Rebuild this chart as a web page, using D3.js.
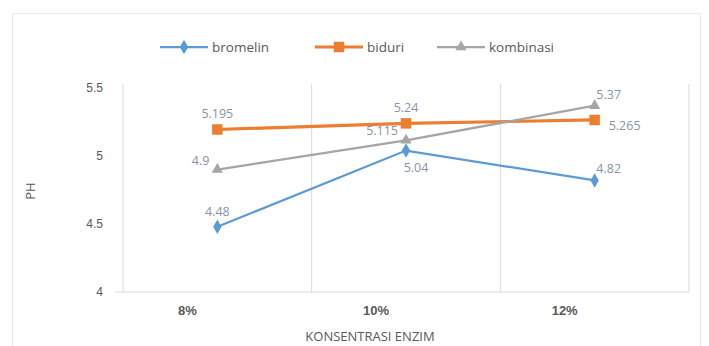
<!DOCTYPE html>
<html><head><meta charset="utf-8">
<script src="https://cdn.jsdelivr.net/npm/d3@7/dist/d3.min.js"></script>
<style>body{margin:0;background:#fff}svg{display:block;font-family:"Open Sans","Liberation Sans",sans-serif}</style>
</head><body><svg id="c" width="709" height="346"></svg>
<script>
const categories = ["8%", "10%", "12%"];
const bromelin = [4.48, 5.04, 4.82];
const biduri = [5.195, 5.24, 5.265];
const kombinasi = [4.9, 5.115, 5.37];
const yTicks = [4, 4.5, 5, 5.5];
const seriesNames = ["bromelin", "biduri", "kombinasi"];

const series = [
  {name: seriesNames[0], values: bromelin, color: "#5B9BD5", sym: d3.symbolDiamond, size: 60, labelPos: ["above","below","aboveRight"]},
  {name: seriesNames[1], values: biduri, color: "#ED7D31", sym: d3.symbolSquare, size: 110, labelPos: ["above","above","right"]},
  {name: seriesNames[2], values: kombinasi, color: "#A5A5A5", sym: d3.symbolTriangle, size: 55, labelPos: ["leftUp","leftUp","aboveRight"]}
];

const svg = d3.select("#c");
const m = {l: 123, r: 689, t: 88, b: 292};
const x = d3.scaleBand().domain(categories).range([m.l, m.r]);
const y = d3.scaleLinear().domain([4, 5.5]).range([m.b, m.t]);

// outer frame
svg.append("rect").attr("x", 12.5).attr("y", 13.5).attr("width", 688).attr("height", 340)
  .attr("fill", "none").attr("stroke", "#ebebeb");

// vertical gridlines at band boundaries
const bounds = categories.map(c => x(c)).concat([x(categories[categories.length-1]) + x.bandwidth()]);
svg.append("g").selectAll("line").data(bounds).join("line")
  .attr("x1", d => d).attr("x2", d => d).attr("y1", m.t - 4).attr("y2", m.b)
  .attr("stroke", "#d9d9d9").attr("stroke-width", 1);

// bottom axis line
svg.append("line").attr("x1", m.l - 8).attr("x2", m.r).attr("y1", m.b).attr("y2", m.b)
  .attr("stroke", "#d9d9d9").attr("stroke-width", 1.2);

// y axis labels
const yAxis = d3.axisLeft(y).tickValues(yTicks).tickSize(0).tickPadding(20).tickFormat(d3.format("~g"));
const yg = svg.append("g").attr("transform", `translate(${m.l},0)`).call(yAxis);
yg.select(".domain").remove();
yg.selectAll("text").attr("fill", "#595959").attr("font-size", 12);

// x axis labels (bold, shifted left)
const xAxis = d3.axisBottom(x).tickSize(0).tickPadding(14);
const xg = svg.append("g").attr("transform", `translate(0,${m.b})`).call(xAxis);
xg.select(".domain").remove();
xg.selectAll("text").attr("fill", "#595959").attr("font-size", 13).attr("font-weight", "bold")
  .attr("dx", -30);

// axis titles
svg.append("text").attr("x", 370).attr("y", 341).attr("text-anchor", "middle")
  .attr("fill", "#595959").attr("font-size", 13).text("KONSENTRASI ENZIM");
svg.append("text").attr("transform", "translate(35,191) rotate(-90)").attr("text-anchor", "middle")
  .attr("fill", "#595959").attr("font-size", 13).text("PH");

const cx = c => x(c) + x.bandwidth() / 2;
const line = d3.line().x((d, i) => cx(categories[i])).y(d => y(d));

series.forEach(s => {
  svg.append("path").datum(s.values).attr("d", line).attr("fill", "none")
    .attr("stroke", s.color).attr("stroke-width", s.name === "biduri" ? 3.2 : 2.25);
  svg.append("g").selectAll("path").data(s.values).join("path")
    .attr("d", d3.symbol().type(s.sym).size(s.size))
    .attr("transform", (d, i) => `translate(${cx(categories[i])},${y(d)})`)
    .attr("fill", s.color);
});

// data labels
const off = {above: [0, -11, "middle"], below: [10, 21, "middle"], right: [14, 10, "start"],
  aboveRight: [14, -7, "middle"], leftUp: [-8, -5, "end"]};
series.forEach(s => {
  svg.append("g").selectAll("text").data(s.values).join("text")
    .attr("x", (d, i) => cx(categories[i]) + off[s.labelPos[i]][0])
    .attr("y", (d, i) => y(d) + off[s.labelPos[i]][1])
    .attr("text-anchor", (d, i) => off[s.labelPos[i]][2])
    .attr("fill", "#8794a6").attr("font-size", 12.5).text(d => d);
});

// legend
const lg = svg.append("g").attr("transform", "translate(160,47)");
const lx = [0, 155, 277];
series.forEach((s, i) => {
  const g = lg.append("g").attr("transform", `translate(${lx[i]},0)`);
  g.append("line").attr("x1", 0).attr("x2", 48).attr("y1", 0).attr("y2", 0)
    .attr("stroke", s.color).attr("stroke-width", s.name === "biduri" ? 3.2 : 2.25);
  g.append("path").attr("d", d3.symbol().type(s.sym).size(s.size)).attr("transform", "translate(24,0)").attr("fill", s.color);
  g.append("text").attr("x", 52).attr("y", 5).attr("fill", "#595959").attr("font-size", 13.5).text(s.name);
});
</script></body></html>
